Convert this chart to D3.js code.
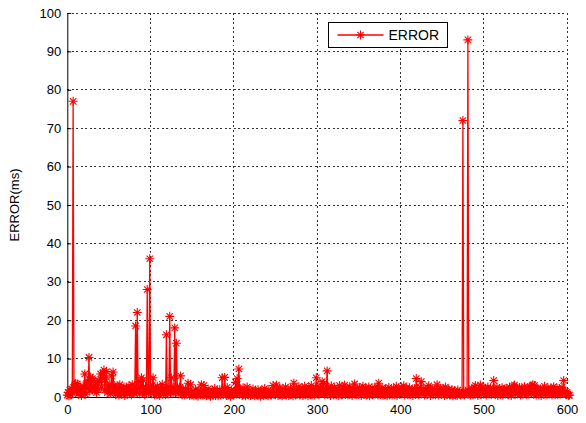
<!DOCTYPE html>
<html>
<head>
<meta charset="utf-8">
<script src="https://cdn.jsdelivr.net/npm/d3@7"></script>
<style>
  html, body { margin: 0; padding: 0; background: #fff; }
  svg { display: block; font-family: "Liberation Sans", Arial, Helvetica, sans-serif; }
</style>
</head>
<body>
<svg id="chart" width="586" height="423"></svg>
<script>
// Error per sample (ms), sample index 0..603
const errorMs = [
  0.5,1.2,0.3,1.8,0.6,2.0,1.1,77.0,2.5,3.2,3.5,1.4,3.4,0.8,2.2,1.0,2.6,0.4,1.9,2.8,
  1.2,6.0,0.7,3.0,4.2,2.1,10.3,1.5,5.2,2.2,4.8,4.4,2.7,1.6,3.1,1.2,3.8,2.0,4.2,4.0,
  6.0,2.6,5.0,6.2,7.0,1.8,4.5,6.6,1.1,2.9,
  1.6,3.2,0.9,5.5,2.1,6.5,1.4,3.0,0.6,2.4,1.2,2.8,0.5,3.2,1.7,0.8,2.2,1.0,2.6,0.4,
  1.8,2.3,0.7,1.5,2.9,1.1,2.0,0.6,3.2,1.3,2.4,0.9,18.5,1.5,22.0,2.2,4.0,0.8,2.5,5.0,
  1.2,4.4,1.9,0.6,2.7,1.4,28.0,2.0,1.1,36.0,
  2.4,1.0,3.1,5.0,1.6,0.5,2.2,1.3,2.8,0.7,1.9,0.4,2.5,1.2,3.3,0.9,1.6,2.3,0.6,16.2,
  1.8,0.8,2.6,21.0,1.3,5.0,2.0,0.9,2.4,18.0,1.5,14.0,2.7,0.8,1.9,2.5,5.5,1.1,0.6,2.0,
  1.4,0.5,2.1,0.9,1.7,3.6,1.0,0.4,3.2,1.3,
  0.7,1.5,0.3,1.1,2.0,0.6,1.3,0.2,1.8,0.9,1.4,3.2,0.5,1.2,3.0,0.8,1.6,0.3,1.0,2.1,
  0.6,1.4,0.2,0.9,1.7,0.5,1.2,2.2,0.4,1.0,1.5,0.3,0.8,1.9,0.6,1.3,5.0,0.7,1.6,5.1,
  0.9,0.4,2.5,1.1,0.5,1.4,0.2,1.8,0.8,1.2,
  0.5,1.6,3.8,0.9,4.8,1.3,7.3,0.7,2.0,1.1,0.4,2.4,0.8,1.5,0.3,1.2,2.6,0.6,1.0,1.7,
  0.4,1.3,0.7,2.1,0.9,0.3,1.5,0.6,1.1,1.9,0.5,1.2,0.2,1.6,0.8,1.4,0.4,2.2,1.0,0.6,
  1.3,0.3,1.8,0.9,1.5,0.5,1.1,3.0,0.7,1.4,
  0.6,3.1,1.0,0.4,1.7,2.4,0.8,1.2,0.3,1.9,0.7,1.5,2.6,0.5,1.0,1.8,0.4,1.3,2.2,0.9,
  1.6,0.3,3.6,1.1,0.6,2.0,0.8,1.4,2.7,0.5,1.2,0.9,2.3,0.4,1.5,2.8,0.7,1.0,1.9,0.3,
  2.5,0.8,1.3,3.0,0.6,1.7,2.2,0.5,1.4,5.0,
  1.2,2.8,0.6,1.5,2.4,0.9,4.0,1.1,3.5,0.7,2.0,1.3,6.8,0.8,2.3,1.6,0.4,2.9,1.0,1.8,
  0.5,2.4,1.2,0.8,2.1,1.5,0.3,3.0,1.1,1.9,0.6,2.6,1.4,3.1,0.7,1.7,2.2,0.5,1.3,2.7,
  0.9,1.6,0.4,2.3,1.0,3.4,1.2,0.6,2.0,1.5,
  0.8,2.5,1.1,0.4,1.9,2.8,0.7,1.4,2.2,0.5,1.6,1.0,2.6,0.3,1.8,1.2,2.4,0.6,1.5,2.0,
  0.9,1.3,2.7,0.5,3.6,1.1,0.7,1.9,2.3,0.4,1.4,0.8,2.1,1.0,0.3,1.7,2.5,0.6,1.2,1.9,
  0.5,1.5,2.2,0.8,1.1,2.8,0.4,1.6,2.0,0.7,
  1.3,2.6,0.9,1.8,2.9,0.5,1.4,2.3,1.0,0.6,1.7,2.4,0.8,1.2,1.9,0.4,1.5,2.2,0.7,4.8,
  1.1,2.0,0.6,1.6,2.5,4.0,0.9,1.4,2.1,0.5,1.3,1.8,0.7,2.4,2.9,1.0,0.4,1.6,2.2,0.8,
  1.3,2.0,0.6,1.5,3.2,1.1,0.5,1.9,2.3,0.7,
  1.4,0.9,2.1,0.4,2.6,1.2,0.7,1.7,2.0,0.5,1.3,0.8,1.9,0.3,1.1,1.6,0.6,1.2,0.4,1.8,
  0.9,1.3,0.5,1.0,0.7,72.0,1.2,0.6,1.5,0.9,1.1,93.0,0.8,1.4,0.5,1.7,2.2,0.6,1.3,2.4,
  3.0,0.9,1.6,0.4,2.1,1.2,3.1,0.7,1.8,2.5,
  0.8,1.5,2.2,0.5,1.3,2.6,0.9,1.7,2.3,0.6,1.4,2.0,4.3,1.1,0.7,1.8,2.5,0.4,1.2,2.1,
  0.8,1.6,2.4,0.5,1.3,1.9,0.9,2.2,1.4,0.6,1.7,2.6,1.0,0.4,2.0,1.5,2.8,3.1,0.7,1.6,
  2.3,0.9,1.2,2.5,0.5,1.8,2.1,0.8,1.4,2.7,
  1.0,0.6,1.9,2.4,0.8,1.5,2.6,1.1,2.9,3.2,0.7,3.0,1.3,0.5,1.8,2.3,0.9,1.6,2.1,0.4,
  1.4,2.0,0.7,2.8,1.2,1.7,0.6,2.4,1.5,0.9,1.9,2.2,0.5,1.3,2.7,1.0,0.7,1.8,2.3,0.6,
  1.4,2.0,0.8,1.6,2.5,1.1,4.3,0.9,1.5,0.6,1.2,0.8,0.4,0.5
];
const sampleIndex = errorMs.map((_, i) => i);

const xTicks = [0, 100, 200, 300, 400, 500, 600];
const yTicks = [0, 10, 20, 30, 40, 50, 60, 70, 80, 90, 100];
const seriesName = "ERROR";
const yTitle = "ERROR(ms)";

const svg = d3.select("#chart");
const plotL = 67.3, plotR = 567, plotT = 13, plotB = 397;

const x = d3.scaleLinear().domain([0, 600]).range([plotL, plotR]);
const y = d3.scaleLinear().domain([0, 100]).range([plotB, plotT]);

// dashed grid
const grid = svg.append("g")
  .attr("stroke", "#333")
  .attr("stroke-width", 1)
  .attr("stroke-dasharray", "2,2.5")
  .attr("shape-rendering", "crispEdges");
grid.selectAll(".gx").data(xTicks.filter(d => d > 0)).join("line")
  .attr("x1", d => x(d)).attr("x2", d => x(d))
  .attr("y1", plotT).attr("y2", plotB);
grid.selectAll(".gy").data(yTicks.filter(d => d > 0)).join("line")
  .attr("x1", plotL).attr("x2", plotR)
  .attr("y1", d => y(d)).attr("y2", d => y(d));

// axes (ticks pointing inward)
const xAxis = svg.append("g")
  .attr("transform", `translate(0,${plotB})`)
  .call(d3.axisBottom(x).tickValues(xTicks).tickSizeInner(-4).tickSizeOuter(0).tickPadding(8).tickFormat(d3.format("d")));
const yAxis = svg.append("g")
  .attr("transform", `translate(${plotL},0)`)
  .call(d3.axisLeft(y).tickValues(yTicks).tickSizeInner(-4).tickSizeOuter(0).tickPadding(6).tickFormat(d3.format("d")));
[xAxis, yAxis].forEach(a => {
  a.select(".domain").attr("stroke", "#000").attr("stroke-width", 1);
  a.selectAll(".tick line").attr("stroke", "#000");
  a.selectAll("text").attr("fill", "#000").attr("font-size", 13)
    .attr("font-family", "'Liberation Sans', Arial, sans-serif");
});

// y title
svg.append("text")
  .attr("transform", `translate(19,${(plotT + plotB) / 2}) rotate(-90)`)
  .attr("text-anchor", "middle")
  .attr("font-size", 13)
  .attr("fill", "#000")
  .text(yTitle);

// series line
const line = d3.line().x((d, i) => x(sampleIndex[i])).y(d => y(d));
svg.append("path")
  .datum(errorMs)
  .attr("fill", "none")
  .attr("stroke", "#ff0000")
  .attr("stroke-width", 1.3)
  .attr("stroke-linejoin", "round")
  .attr("d", line);

// asterisk marker
const r = 4.5, rd = 3.2;
const starPath = `M${-r},0H${r}M0,${-r}V${r}M${-rd},${-rd}L${rd},${rd}M${-rd},${rd}L${rd},${-rd}`;
svg.append("g")
  .attr("stroke", "#ff0000")
  .attr("stroke-width", 1.1)
  .attr("fill", "none")
  .selectAll("path").data(errorMs).join("path")
  .attr("transform", (d, i) => `translate(${x(sampleIndex[i])},${y(d)})`)
  .attr("d", starPath);

// legend
const lg = svg.append("g").attr("transform", "translate(328.5,22.5)");
lg.append("rect").attr("width", 119).attr("height", 25)
  .attr("fill", "#fff").attr("stroke", "#000").attr("stroke-width", 1);
lg.append("line").attr("x1", 9).attr("x2", 55).attr("y1", 12.5).attr("y2", 12.5)
  .attr("stroke", "#ff0000").attr("stroke-width", 1.3);
lg.append("path").attr("transform", "translate(32,12.5)").attr("d", starPath)
  .attr("stroke", "#ff0000").attr("stroke-width", 1.1).attr("fill", "none");
lg.append("text").attr("x", 60).attr("y", 17.5)
  .attr("font-size", 14).attr("fill", "#000").text(seriesName);
</script>
</body>
</html>
